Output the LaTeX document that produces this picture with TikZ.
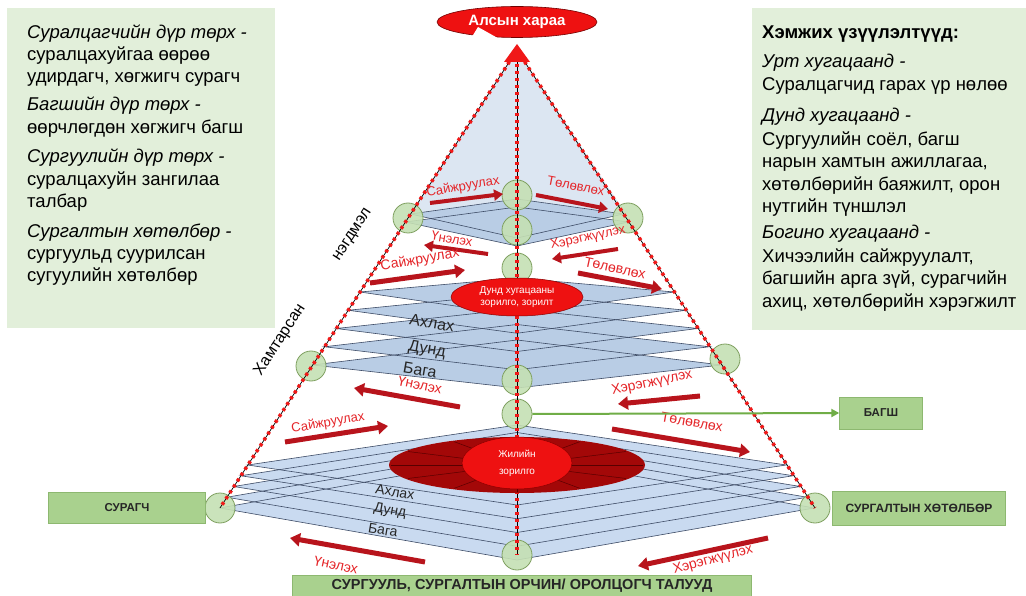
\documentclass[tikz,border=0pt]{standalone}
\usepackage{fontspec}
\setmainfont{Liberation Sans}
\usetikzlibrary{arrows.meta,shapes.geometric}
\definecolor{boxg}{HTML}{E2EFDA}
\definecolor{lblg}{HTML}{A9D18E}
\definecolor{lblgd}{HTML}{8DB870}
\definecolor{circg}{HTML}{C5E0B4}
\definecolor{circgd}{HTML}{7FA060}
\definecolor{paleb}{HTML}{DCE6F2}
\definecolor{platb}{HTML}{B9CDE5}
\definecolor{platb2}{HTML}{C9DAF0}
\definecolor{platl}{HTML}{3E4C66}
\definecolor{rtext}{HTML}{E5262A}
\definecolor{rarrow}{HTML}{B8141C}
\definecolor{ered}{HTML}{EE1111}
\definecolor{edark}{HTML}{A30808}
\definecolor{garrow}{HTML}{70AD47}
\definecolor{dotred}{HTML}{F01818}
\begin{document}
\begin{tikzpicture}[x=1pt,y=-1pt,
  gc/.style={circle,fill=circg,draw=circgd,line width=0.8pt,minimum size=30pt,inner sep=0pt,fill opacity=0.9},
  reddot/.style={draw=black,line width=0.7pt,postaction={draw=dotred,line width=3.5pt,dash pattern=on 3pt off 4pt}},
  platline/.style={draw=platl,line width=0.6pt},
  lbl/.style={draw=lblgd,fill=lblg,font=\bfseries\fontsize{11.5}{12}\selectfont,text=black!85,inner sep=0pt},
  rl/.style={text=rtext,font=\fontsize{14}{15}\selectfont,inner sep=0pt},
  rls/.style={text=rtext,font=\fontsize{13}{14}\selectfont,inner sep=0pt},
  ra/.style={draw=rarrow,line width=5pt,-{Triangle[length=10pt,width=13pt]}},
  ras/.style={draw=rarrow,line width=4pt,-{Triangle[length=9pt,width=11pt]}},
  lt/.style={anchor=base west,inner sep=0pt,font=\fontsize{18.5}{20}\selectfont},
  lvl/.style={text=black!85,inner sep=0pt},
  side/.style={rotate=57,inner sep=0pt,font=\fontsize{16}{16}\selectfont}]
\useasboundingbox (0,0) rectangle (1026,596);
\fill[white] (0,0) rectangle (1026,596);
% text boxes
\node[fill=boxg,anchor=north west,minimum width=268pt,minimum height=320pt,inner sep=0pt] (lbox) at (7,8) {};
\node[fill=boxg,anchor=north west,minimum width=274pt,minimum height=322pt,inner sep=0pt] (rbox) at (752,8) {};
\foreach \yy/\tx [count=\i] in {
  33/{\itshape Суралцагчийн дүр төрх -},
  55/{суралцахуйгаа өөрөө},
  77/{удирдагч, хөгжигч сурагч},
  105/{\itshape Багшийн дүр төрх -},
  128/{өөрчлөгдөн хөгжигч багш},
  157/{\itshape Сургуулийн дүр төрх -},
  180/{суралцахуйн зангилаа},
  202/{талбар},
  232/{\itshape Сургалтын хөтөлбөр -},
  254/{сургуульд суурилсан},
  276/{сугуулийн хөтөлбөр}}
  \node[lt] (L\i) at (27,\yy+6) {\tx};
\foreach \yy/\tx [count=\i] in {
  33/{\bfseries Хэмжих үзүүлэлтүүд:},
  62/{\itshape Урт хугацаанд -},
  85/{Суралцагчид гарах үр нөлөө},
  116/{\itshape Дунд хугацаанд -},
  140/{Сургуулийн соёл, багш},
  162/{нарын хамтын ажиллагаа,},
  185/{хөтөлбөрийн баяжилт, орон},
  207/{нутгийн түншлэл},
  233/{\itshape Богино хугацаанд -},
  256/{Хичээлийн сайжруулалт,},
  278/{багшийн арга зүй, сурагчийн},
  301/{ахиц, хөтөлбөрийн хэрэгжилт}}
  \node[lt] (R\i) at (762,\yy+6) {\tx};
% apex region
\coordinate (apex) at (517,50);
\fill[paleb] (apex) -- (410,214) -- (517,199) -- (626,214) -- cycle;
% upper platform
\foreach \a/\b/\c in {214/199/238,222/207/246}{
  \pgfmathsetmacro\hw{0.649*(\a-50)}
  \fill[platb] (517-\hw,\a) -- (517,\b) -- (517+\hw,\a) -- (517,\c) -- cycle;}
\foreach \a/\b/\c in {214/199/238,222/207/246}{
  \pgfmathsetmacro\hw{0.649*(\a-50)}
  \draw[platline] (517-\hw,\a) -- (517,\b) -- (517+\hw,\a) -- (517,\c) -- cycle;}
% middle platform
\foreach \pp in {0,0.25,0.5,0.75,1}{
  \pgfmathsetmacro\yl{292+73*\pp}
  \pgfmathsetmacro\hw{0.649*(\yl-50)}
  \pgfmathsetmacro\yt{278+62*\pp}
  \pgfmathsetmacro\yb{315+73*\pp}
  \fill[platb] (517-\hw,\yl) -- (517,\yt) -- (517+\hw,\yl) -- (517,\yb) -- cycle;}
\foreach \pp in {0,0.25,0.5,0.75,1}{
  \pgfmathsetmacro\yl{292+73*\pp}
  \pgfmathsetmacro\hw{0.649*(\yl-50)}
  \pgfmathsetmacro\yt{278+62*\pp}
  \pgfmathsetmacro\yb{315+73*\pp}
  \draw[platline] (517-\hw,\yl) -- (517,\yt) -- (517+\hw,\yl) -- (517,\yb) -- cycle;}
% bottom platform
\foreach \pp in {0,0.25,0.5,0.75,1}{
  \pgfmathsetmacro\yl{465+43*\pp}
  \pgfmathsetmacro\hw{0.649*(\yl-50)}
  \pgfmathsetmacro\yt{425+30*\pp}
  \pgfmathsetmacro\yb{505+55*\pp}
  \fill[platb2] (517-\hw,\yl) -- (517,\yt) -- (517+\hw,\yl) -- (517,\yb) -- cycle;}
\foreach \pp in {0,0.25,0.5,0.75,1}{
  \pgfmathsetmacro\yl{465+43*\pp}
  \pgfmathsetmacro\hw{0.649*(\yl-50)}
  \pgfmathsetmacro\yt{425+30*\pp}
  \pgfmathsetmacro\yb{505+55*\pp}
  \draw[platline] (517-\hw,\yl) -- (517,\yt) -- (517+\hw,\yl) -- (517,\yb) -- cycle;}
% level labels
\node[lvl,rotate=-10,font=\fontsize{16}{16}\selectfont] (m1) at (432,323) {Ахлах};
\node[lvl,rotate=-10,font=\fontsize{16}{16}\selectfont] (m2) at (427,350) {Дунд};
\node[lvl,rotate=-10,font=\fontsize{16}{16}\selectfont] (m3) at (420,370) {Бага};
\node[lvl,rotate=-10,font=\fontsize{14}{14}\selectfont] (b1) at (395,492) {Ахлах};
\node[lvl,rotate=-10,font=\fontsize{14}{14}\selectfont] (b2) at (390,511) {Дунд};
\node[lvl,rotate=-10,font=\fontsize{14}{14}\selectfont] (b3) at (383,530) {Бага};
% circles
\node[gc] (c1) at (408,218) {};
\node[gc] (c2) at (628,218) {};
\node[gc] (c3) at (517,195) {};
\node[gc] (c4) at (517,230) {};
\node[gc] (c5) at (517,268) {};
\node[gc] (c6) at (311,366) {};
\node[gc] (c7) at (725,359) {};
\node[gc] (c8) at (517,380) {};
\node[gc] (c9) at (517,414) {};
\node[gc] (c10) at (220,508) {};
\node[gc] (c11) at (815,508) {};
\node[gc] (c12) at (517,555) {};
% dotted lines
\draw[reddot] (apex) -- (c12.center);
\draw[reddot] (apex) -- (c10.center);
\draw[reddot] (apex) -- (c11.center);
\fill[dotred] (504,62) -- (517,44) -- (530,62) -- cycle;
% ellipses
\node[ellipse,fill=ered,draw=red!55!black,line width=0.5pt,minimum width=132pt,minimum height=38pt,inner sep=0pt,align=center,text=white,font=\fontsize{10}{12}\selectfont] (mide) at (517,297) {Дунд хугацааны\\зорилго, зорилт};
\node[ellipse,fill=edark,minimum width=256pt,minimum height=56pt,inner sep=0pt] (bde) at (517,465) {};
\foreach \a in {0,30,...,330}
  \draw[red!35!black,line width=0.5pt] (bde.center) -- ++(\a:126pt and 27pt);
\node[ellipse,fill=ered,draw=red!55!black,line width=0.5pt,minimum width=110pt,minimum height=52pt,inner sep=0pt,align=center,text=white,font=\fontsize{10}{14}\selectfont] (bie) at (517,463) {Жилийн\\[3pt]зорилго};
\node[ellipse,fill=ered,draw=red!45!black,line width=0.6pt,minimum width=160pt,minimum height=31pt,inner sep=0pt,text=white,font=\bfseries\fontsize{15}{16}\selectfont] (vision) at (517,22) {Алсын хараа};
\fill[white] (470,40) -- (478,27) -- (503,41) -- cycle;
% red arrows and labels
\node[rls,rotate=10] (t1) at (463,187) {Сайжруулах};
\draw[ras] (430,203) -- (503,194);
\node[rls,rotate=-11] (t2) at (576,186) {Төлөвлөх};
\draw[ras] (536,195) -- (608,209);
\node[rls,rotate=-10] (t3) at (452,239) {Үнэлэх};
\draw[ras] (488,254) -- (424,245);
\node[rls,rotate=12] (t4) at (588,238) {Хэрэгжүүлэх};
\draw[ras] (618,249) -- (552,259);
\node[rl,rotate=10] (t5) at (420,260) {Сайжруулах};
\draw[ra] (370,283) -- (465,270);
\node[rl,rotate=-12] (t6) at (615,268) {Төлөвлөх};
\draw[ra] (578,273) -- (662,289);
\node[rl,rotate=-12] (t7) at (420,385) {Үнэлэх};
\draw[ra] (460,407) -- (354,388);
\node[rl,rotate=12] (t8) at (652,383) {Хэрэгжүүлэх};
\draw[ra] (700,396) -- (618,404);
\node[rls,rotate=10] (t9) at (328,423) {Сайжруулах};
\draw[ra] (285,442) -- (388,426);
\node[rl,rotate=-10] (t10) at (692,422) {Төлөвлөх};
\draw[ra] (612,429) -- (750,452);
% side texts
\node[side] (negd) at (353,235) {нэгдмэл};
\node[side] (ham) at (280,340) {Хамтарсан};
% green label boxes
\node[lbl,minimum width=157pt,minimum height=31pt] (suragch) at (127,508) {СУРАГЧ};
\node[lbl,minimum width=173pt,minimum height=34pt,font=\bfseries\fontsize{12}{12}\selectfont] (hotolbor) at (919,508) {СУРГАЛТЫН ХӨТӨЛБӨР};
\node[lbl,minimum width=83pt,minimum height=32pt] (bagsh) at (881,413) {БАГШ};
\node[lbl,minimum width=459pt,minimum height=21pt,font=\bfseries\fontsize{14.5}{15}\selectfont] (env) at (522,586) {СУРГУУЛЬ, СУРГАЛТЫН ОРЧИН/ ОРОЛЦОГЧ ТАЛУУД};
\draw[garrow,line width=2pt,-{Triangle[length=8pt,width=8pt]}] (c9.east) -- (bagsh.west);
% bottom arrows and labels
\node[rl,rotate=-12] (t11) at (336,565) {Үнэлэх};
\draw[ra] (425,562) -- (290,538);
\node[rl,rotate=15] (t12) at (713,560) {Хэрэгжүүлэх};
\draw[ra] (768,538) -- (638,566);
\end{tikzpicture}
\end{document}
